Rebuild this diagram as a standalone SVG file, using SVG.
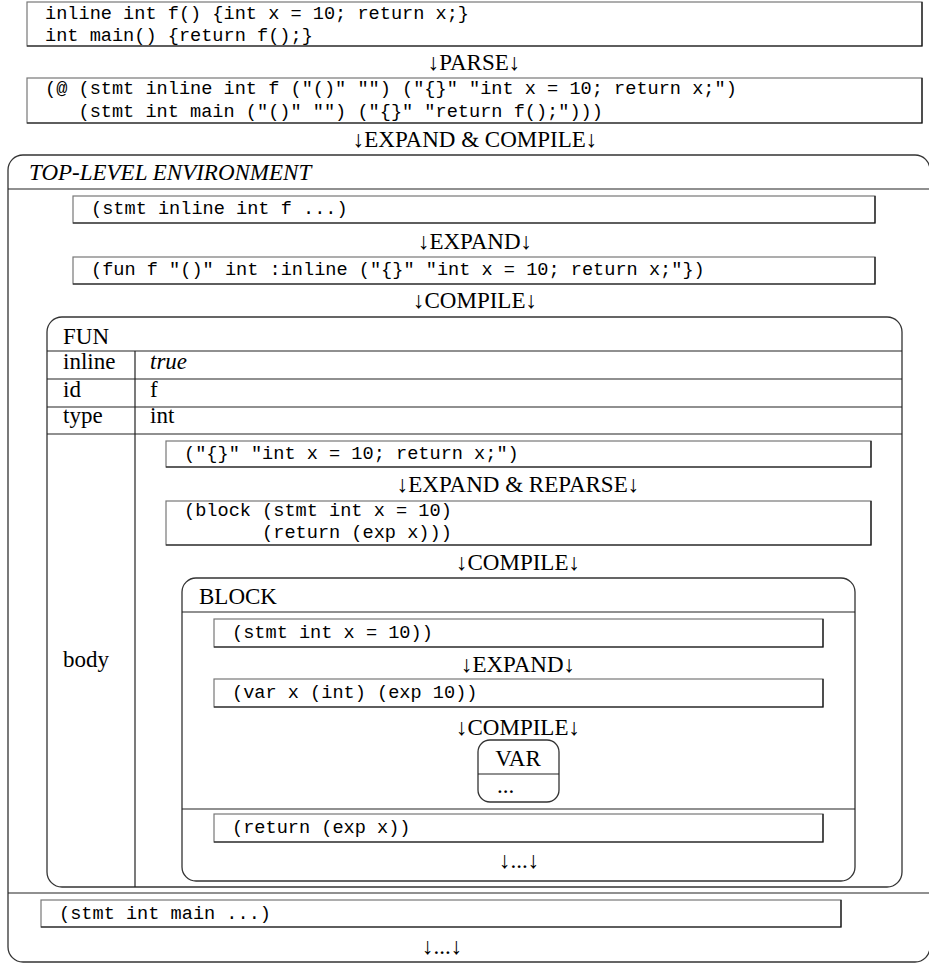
<svg xmlns="http://www.w3.org/2000/svg" width="929" height="963" viewBox="0 0 929 963">
<style>
.bg{fill:#fff}
.fb{fill:none;stroke:#777;stroke-width:1.2}
.fd{fill:none;stroke:#111;stroke-width:1.2}
.rb{fill:none;stroke:#333;stroke-width:1.3}
.ln{stroke:#222;stroke-width:1.2}
.mono{font-family:"Liberation Mono","DejaVu Sans Mono",monospace;font-size:18.6px;fill:#000;white-space:pre}
.serif{font-family:"Liberation Serif","DejaVu Serif",serif;font-size:23px;fill:#000}
.it{font-style:italic}
.mid{text-anchor:middle}
</style>
<rect class="bg" x="0" y="0" width="929" height="963"/>

<g id="source">
<rect class="fb" x="27" y="2" width="895" height="44"/>
<path class="fd" d="M922 2V46H27"/>
<text class="mono" x="45" y="19" xml:space="preserve">inline int f() {int x = 10; return x;}</text>
<text class="mono" x="45" y="41" xml:space="preserve">int main() {return f();}</text>
</g>

<g id="parsed">
<rect class="fb" x="27" y="78" width="895" height="45"/>
<path class="fd" d="M922 78V123H27"/>
<text class="mono" x="45" y="94" xml:space="preserve">(@ (stmt inline int f ("()" "") ("{}" "int x = 10; return x;")</text>
<text class="mono" x="45" y="117" xml:space="preserve">   (stmt int main ("()" "") ("{}" "return f();")))</text>
</g>

<g id="env">
<rect class="rb" x="8" y="155" width="922" height="807" rx="15"/>
<line class="ln" x1="8" y1="189" x2="929" y2="189"/>
<line class="ln" x1="8" y1="893" x2="929" y2="893"/>
<text class="serif it" x="29" y="180">TOP-LEVEL ENVIRONMENT</text>
</g>

<g id="stmt-f">
<rect class="fb" x="73" y="196" width="802" height="27"/>
<path class="fd" d="M875 196V223H73"/>
<text class="mono" x="91" y="214" xml:space="preserve">(stmt inline int f ...)</text>
</g>

<g id="fun-form">
<rect class="fb" x="73" y="257" width="802" height="27"/>
<path class="fd" d="M875 257V284H73"/>
<text class="mono" x="91" y="275" xml:space="preserve">(fun f "()" int :inline ("{}" "int x = 10; return x;"})</text>
</g>

<g id="fun">
<rect class="rb" x="47" y="317" width="855" height="570" rx="15"/>
<line class="ln" x1="47" y1="351" x2="902" y2="351"/>
<line class="ln" x1="47" y1="379" x2="902" y2="379"/>
<line class="ln" x1="47" y1="407" x2="902" y2="407"/>
<line class="ln" x1="47" y1="434" x2="902" y2="434"/>
<line class="ln" x1="135" y1="351" x2="135" y2="887"/>
<text class="serif" x="63" y="344">FUN</text>
<text class="serif" x="63" y="369">inline</text>
<text class="serif it" x="150" y="369">true</text>
<text class="serif" x="63" y="397">id</text>
<text class="serif" x="150" y="397">f</text>
<text class="serif" x="63" y="423">type</text>
<text class="serif" x="150" y="423">int</text>
<text class="serif" x="63" y="667">body</text>
</g>

<g id="body-src">
<rect class="fb" x="166" y="441" width="705" height="26"/>
<path class="fd" d="M871 441V467H166"/>
<text class="mono" x="184" y="459" xml:space="preserve">("{}" "int x = 10; return x;")</text>
</g>

<g id="block-form">
<rect class="fb" x="166" y="501" width="705" height="44"/>
<path class="fd" d="M871 501V545H166"/>
<text class="mono" x="184" y="516" xml:space="preserve">(block (stmt int x = 10)</text>
<text class="mono" x="184" y="538" xml:space="preserve">       (return (exp x)))</text>
</g>

<g id="block">
<rect class="rb" x="182" y="578" width="673" height="303" rx="14"/>
<line class="ln" x1="182" y1="612" x2="855" y2="612"/>
<line class="ln" x1="182" y1="809" x2="855" y2="809"/>
<text class="serif" x="199" y="604">BLOCK</text>
</g>

<g id="stmt-x">
<rect class="fb" x="214" y="619" width="609" height="28"/>
<path class="fd" d="M823 619V647H214"/>
<text class="mono" x="232" y="638" xml:space="preserve">(stmt int x = 10))</text>
</g>

<g id="var-form">
<rect class="fb" x="214" y="679" width="609" height="28"/>
<path class="fd" d="M823 679V707H214"/>
<text class="mono" x="232" y="698" xml:space="preserve">(var x (int) (exp 10))</text>
</g>

<g id="var">
<rect class="rb" x="478" y="740" width="81" height="62" rx="12"/>
<line class="ln" x1="478" y1="774" x2="559" y2="774"/>
<text class="serif mid" x="518" y="766">VAR</text>
<text class="serif" x="497" y="793">...</text>
</g>

<g id="return-form">
<rect class="fb" x="214" y="814" width="609" height="28"/>
<path class="fd" d="M823 814V842H214"/>
<text class="mono" x="232" y="833" xml:space="preserve">(return (exp x))</text>
</g>

<g id="stmt-main">
<rect class="fb" x="41" y="900" width="800" height="27"/>
<path class="fd" d="M841 900V927H41"/>
<text class="mono" x="59" y="919" xml:space="preserve">(stmt int main ...)</text>
</g>

<g id="connectors">
<text class="serif mid" x="474" y="70">↓PARSE↓</text>
<text class="serif mid" x="475" y="147">↓EXPAND &amp; COMPILE↓</text>
<text class="serif mid" x="475" y="249">↓EXPAND↓</text>
<text class="serif mid" x="475" y="308">↓COMPILE↓</text>
<text class="serif mid" x="518" y="492">↓EXPAND &amp; REPARSE↓</text>
<text class="serif mid" x="518" y="570">↓COMPILE↓</text>
<text class="serif mid" x="518" y="672">↓EXPAND↓</text>
<text class="serif mid" x="518" y="735">↓COMPILE↓</text>
<text class="serif mid" x="519" y="868">↓...↓</text>
<text class="serif mid" x="442" y="954">↓...↓</text>
</g>
</svg>
